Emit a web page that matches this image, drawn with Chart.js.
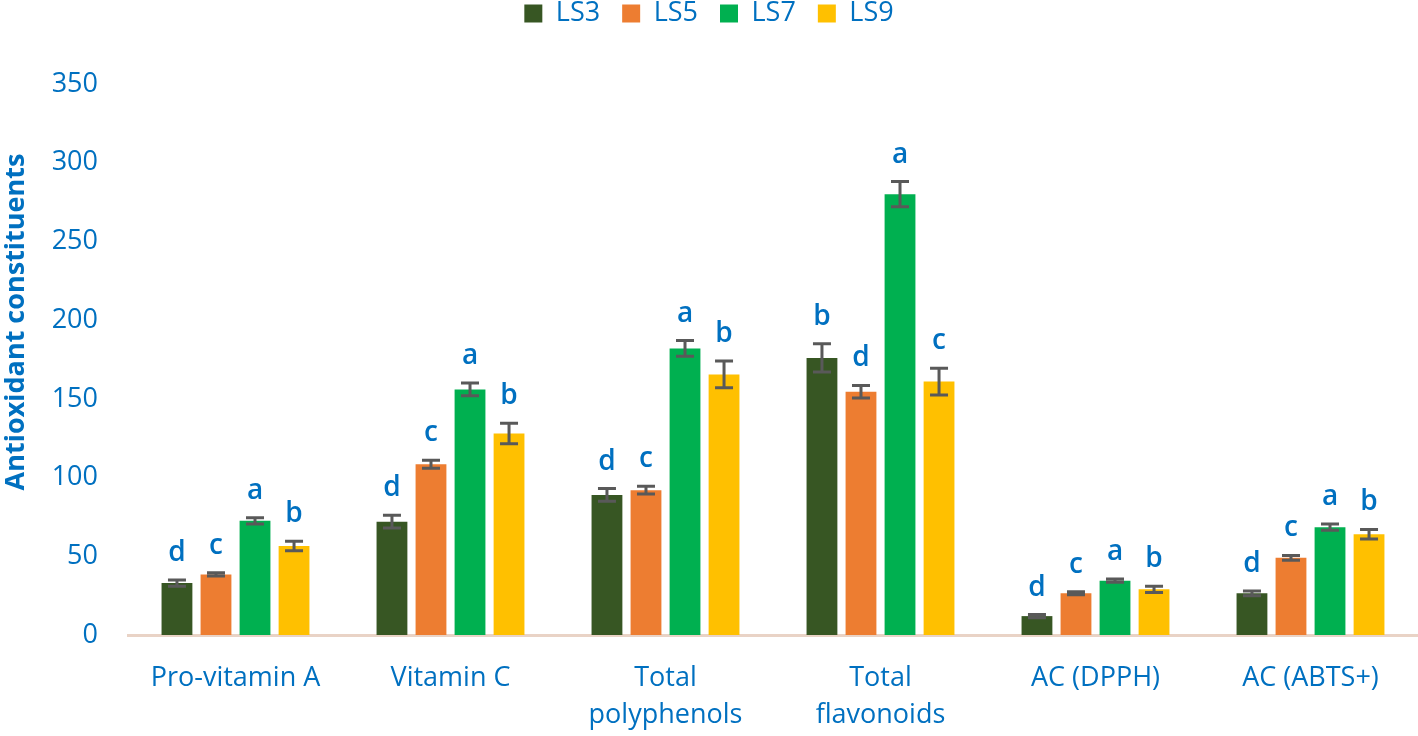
<!DOCTYPE html>
<html>
<head>
<meta charset="utf-8">
<script src="https://cdn.jsdelivr.net/npm/chart.js@4"></script>
<style>
html,body{margin:0;padding:0;background:#fff;}
#wrap{width:1418px;height:736px;position:relative;}
</style>
</head>
<body>
<div id="wrap"><canvas id="c" width="1418" height="736"></canvas></div>
<script>
const categories = [["Pro-vitamin A"], ["Vitamin C"], ["Total", "polyphenols"], ["Total", "flavonoids"], ["AC (DPPH)"], ["AC (ABTS+)"]];
const seriesNames = ["LS3", "LS5", "LS7", "LS9"];
const LS3 = [33, 72, 89, 176, 12, 26.5];
const LS5 = [38.5, 108.5, 92, 154.5, 26.5, 49];
const LS7 = [72.5, 156, 182, 280, 34.5, 68.5];
const LS9 = [56.5, 128, 165.5, 161, 29, 64];
const LS3err = [2, 4, 4, 9, 1, 1.5];
const LS5err = [1, 2.5, 2.5, 4, 1, 1.5];
const LS7err = [2, 4, 5, 8, 1, 2];
const LS9err = [3, 6.5, 8.5, 8.5, 2, 3];
const LS3letters = ["d", "d", "d", "b", "d", "d"];
const LS5letters = ["c", "c", "c", "d", "c", "c"];
const LS7letters = ["a", "a", "a", "a", "a", "a"];
const LS9letters = ["b", "b", "b", "c", "b", "b"];
const yTicks = [0, 50, 100, 150, 200, 250, 300, 350];
const yTitle = "Antioxidant constituents";

const colors = ["#375623", "#ED7D31", "#00B050", "#FFC000"];
const values = [LS3, LS5, LS7, LS9];
const errs = [LS3err, LS5err, LS7err, LS9err];
const letters = [LS3letters, LS5letters, LS7letters, LS9letters];
const BLUE = "#0070C0";
const FONT = "'Open Sans', sans-serif";

const extras = {
  id: 'extras',
  beforeInit(chart) {
    const lg = chart.legend;
    if (lg) {
      const orig = lg.fit;
      lg.fit = function () { orig.call(this); this.height = 106; };
    }
  },
  afterDatasetsDraw(chart) {
    const ctx = chart.ctx;
    const y = chart.scales.y;
    chart.data.datasets.forEach((ds, di) => {
      const meta = chart.getDatasetMeta(di);
      meta.data.forEach((bar, i) => {
        const v = values[di][i], e = errs[di][i];
        const yt = y.getPixelForValue(v + e), yb = y.getPixelForValue(v - e);
        const x = bar.x, cap = 9;
        ctx.save();
        ctx.strokeStyle = "#595959";
        ctx.lineWidth = 3;
        ctx.beginPath();
        ctx.moveTo(x, yt); ctx.lineTo(x, yb);
        ctx.moveTo(x - cap, yt); ctx.lineTo(x + cap, yt);
        ctx.moveTo(x - cap, yb); ctx.lineTo(x + cap, yb);
        ctx.stroke();
        ctx.fillStyle = BLUE;
        ctx.font = "600 28px " + FONT;
        ctx.textAlign = "center";
        ctx.textBaseline = "bottom";
        ctx.fillText(letters[di][i], x, yt - 13);
        ctx.restore();
      });
    });
  },
  afterDraw(chart) {
    const ctx = chart.ctx;
    ctx.save();
    ctx.translate(16, 322);
    ctx.rotate(-Math.PI / 2);
    ctx.fillStyle = BLUE;
    ctx.font = "bold 27px " + FONT;
    ctx.textAlign = "center";
    ctx.textBaseline = "middle";
    ctx.fillText(yTitle, 0, 0);
    ctx.restore();
  }
};

new Chart(document.getElementById('c'), {
  type: 'bar',
  data: {
    labels: categories,
    datasets: seriesNames.map((n, i) => ({
      label: n,
      data: values[i],
      backgroundColor: colors[i],
      borderWidth: 0,
      categoryPercentage: 0.726,
      barPercentage: 0.79
    }))
  },
  options: {
    responsive: false,
    animation: false,
    devicePixelRatio: 1,
    layout: { padding: { top: -22, right: 0, left: 0, bottom: 0 } },
    plugins: {
      legend: {
        position: 'top',
        labels: {
          color: BLUE,
          font: { size: 27, family: FONT },
          boxWidth: 18,
          boxHeight: 18,
          padding: 22
        }
      },
      tooltip: { enabled: false }
    },
    scales: {
      x: {
        grid: { display: false, drawTicks: false },
        border: { display: true, color: "#e9d3c6", width: 3 },
        ticks: { color: BLUE, font: { size: 27, family: FONT, lineHeight: 1.4 }, padding: 24, maxRotation: 0, autoSkip: false },
        afterFit(s) { s.height = 101; }
      },
      y: {
        min: 0, max: 350,
        afterBuildTicks(s) { s.ticks = yTicks.map(v => ({ value: v })); },
        grid: { display: false, drawTicks: false },
        border: { display: false },
        ticks: { color: BLUE, font: { size: 27, family: FONT }, padding: 30 },
        afterFit(s) { s.width = 128; }
      }
    }
  },
  plugins: [extras]
});
</script>
</body>
</html>
